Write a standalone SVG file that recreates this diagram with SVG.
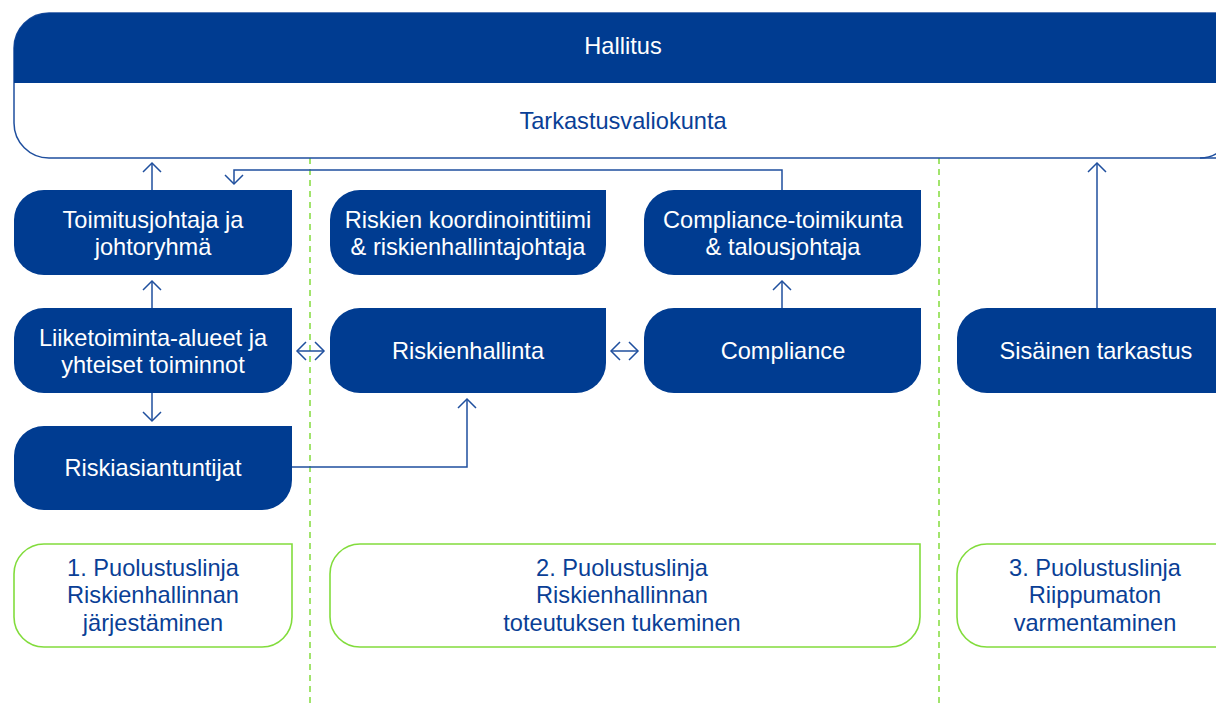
<svg xmlns="http://www.w3.org/2000/svg" width="1216" height="708" viewBox="0 0 1216 708">
<defs>
<style>
.n{fill:#003c91}
.t{fill:#fff;font-family:"Liberation Sans",Arial,sans-serif;font-size:23.6px;text-anchor:middle}
.g{fill:#fff;stroke:#82dc3c;stroke-width:1.6}
.gt{fill:#0a3f96;font-family:"Liberation Sans",Arial,sans-serif;font-size:23.6px;text-anchor:middle}
.c{fill:none;stroke:#1f4f9e;stroke-width:1.5}
.d{stroke:#82dc3c;stroke-width:1.5;stroke-dasharray:6 5}
</style>
<marker id="a" viewBox="0 0 20 20" refX="10" refY="10" markerWidth="20" markerHeight="20" markerUnits="userSpaceOnUse" orient="auto-start-reverse">
<path d="M1,1 L10,10 L1,19" fill="none" stroke="#1f4f9e" stroke-width="1.5"/>
</marker>
</defs>
<g id="dividers">
<line class="d" x1="310" y1="158" x2="310" y2="708"/>
<line class="d" x1="939" y1="158" x2="939" y2="708"/>
</g>
<g id="top">
<path d="M49,13 H1240 V158 H49 A35,35 0 0 1 14,123 V48 A35,35 0 0 1 49,13 Z" fill="#fff" stroke="#1f4f9e" stroke-width="1.5"/>
<path d="M49,13 H1240 V83 H14 V48 A35,35 0 0 1 49,13 Z" class="n"/>
<path d="M1200,158 A32,32 0 0 0 1232,126" fill="none" stroke="#1f4f9e" stroke-width="1.5"/>
<text class="t" x="623" y="54">Hallitus</text>
<text class="t" x="623" y="129" style="fill:#0a3f96">Tarkastusvaliokunta</text>
</g>
<g id="toimitusjohtaja">
<path class="n" d="M44,190 H292 V245 A30,30 0 0 1 262,275 H44 A30,30 0 0 1 14,245 V220 A30,30 0 0 1 44,190 Z"/>
<text class="t" x="153" y="228">Toimitusjohtaja ja</text>
<text class="t" x="153" y="255">johtoryhmä</text>
</g>
<g id="liiketoiminta">
<path class="n" d="M44,308 H292 V363 A30,30 0 0 1 262,393 H44 A30,30 0 0 1 14,363 V338 A30,30 0 0 1 44,308 Z"/>
<text class="t" x="153" y="346">Liiketoiminta-alueet ja</text>
<text class="t" x="153" y="373">yhteiset toiminnot</text>
</g>
<g id="riskiasiantuntijat">
<path class="n" d="M44,426 H292 V480 A30,30 0 0 1 262,510 H44 A30,30 0 0 1 14,480 V456 A30,30 0 0 1 44,426 Z"/>
<text class="t" x="153" y="476">Riskiasiantuntijat</text>
</g>
<g id="koordinointi">
<path class="n" d="M360,190 H606 V245 A30,30 0 0 1 576,275 H360 A30,30 0 0 1 330,245 V220 A30,30 0 0 1 360,190 Z"/>
<text class="t" x="468" y="228">Riskien koordinointitiimi</text>
<text class="t" x="468" y="255">&amp; riskienhallintajohtaja</text>
</g>
<g id="riskienhallinta">
<path class="n" d="M360,308 H606 V363 A30,30 0 0 1 576,393 H360 A30,30 0 0 1 330,363 V338 A30,30 0 0 1 360,308 Z"/>
<text class="t" x="468" y="359">Riskienhallinta</text>
</g>
<g id="compliance-toimikunta">
<path class="n" d="M674,190 H921 V245 A30,30 0 0 1 891,275 H674 A30,30 0 0 1 644,245 V220 A30,30 0 0 1 674,190 Z"/>
<text class="t" x="783" y="228">Compliance-toimikunta</text>
<text class="t" x="783" y="255">&amp; talousjohtaja</text>
</g>
<g id="compliance">
<path class="n" d="M674,308 H921 V363 A30,30 0 0 1 891,393 H674 A30,30 0 0 1 644,363 V338 A30,30 0 0 1 674,308 Z"/>
<text class="t" x="783" y="359">Compliance</text>
</g>
<g id="sisainen">
<path class="n" d="M987,308 H1240 V393 H987 A30,30 0 0 1 957,363 V338 A30,30 0 0 1 987,308 Z"/>
<text class="t" x="1096" y="359">Sisäinen tarkastus</text>
</g>
<g id="linja1">
<path class="g" d="M44,544 H292 V617 A30,30 0 0 1 262,647 H44 A30,30 0 0 1 14,617 V574 A30,30 0 0 1 44,544 Z"/>
<text class="gt" x="153" y="576">1. Puolustuslinja</text>
<text class="gt" x="153" y="603">Riskienhallinnan</text>
<text class="gt" x="153" y="631">järjestäminen</text>
</g>
<g id="linja2">
<path class="g" d="M360,544 H920 V617 A30,30 0 0 1 890,647 H360 A30,30 0 0 1 330,617 V574 A30,30 0 0 1 360,544 Z"/>
<text class="gt" x="622" y="576">2. Puolustuslinja</text>
<text class="gt" x="622" y="603">Riskienhallinnan</text>
<text class="gt" x="622" y="631">toteutuksen tukeminen</text>
</g>
<g id="linja3">
<path class="g" d="M987,544 H1240 V647 H987 A30,30 0 0 1 957,617 V574 A30,30 0 0 1 987,544 Z"/>
<text class="gt" x="1095" y="576">3. Puolustuslinja</text>
<text class="gt" x="1095" y="603">Riippumaton</text>
<text class="gt" x="1095" y="631">varmentaminen</text>
</g>
<g id="connectors">
<path class="c" d="M152,190 V163" marker-end="url(#a)"/>
<path class="c" d="M782,190 V170 H234 V184" marker-end="url(#a)"/>
<path class="c" d="M152,308 V281" marker-end="url(#a)"/>
<path class="c" d="M152,393 V421" marker-end="url(#a)"/>
<path class="c" d="M297,351 H324" marker-start="url(#a)" marker-end="url(#a)"/>
<path class="c" d="M611,351 H638" marker-start="url(#a)" marker-end="url(#a)"/>
<path class="c" d="M292,467 H467 V399" marker-end="url(#a)"/>
<path class="c" d="M782,308 V281" marker-end="url(#a)"/>
<path class="c" d="M1097,308 V163" marker-end="url(#a)"/>
</g>
</svg>
